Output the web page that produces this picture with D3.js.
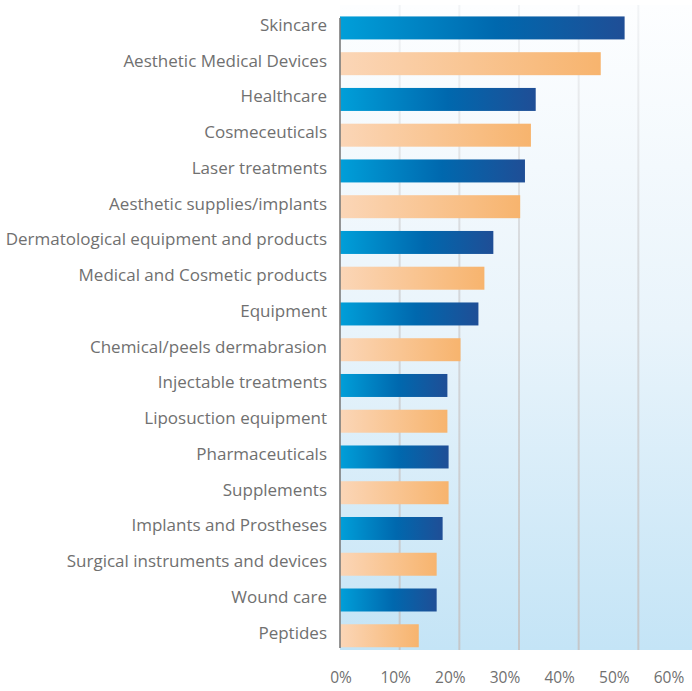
<!DOCTYPE html>
<html>
<head>
<meta charset="utf-8">
<script src="https://cdn.jsdelivr.net/npm/d3@7"></script>
<style>
  body { margin: 0; background: #fff; }
  svg { display: block; font-family: "Open Sans", "Noto Sans", sans-serif; }
</style>
</head>
<body>
<div id="chart"></div>
<script>
const categories = [
    "Skincare", "Aesthetic Medical Devices", "Healthcare", "Cosmeceuticals",
    "Laser treatments", "Aesthetic supplies/implants", "Dermatological equipment and products",
    "Medical and Cosmetic products", "Equipment", "Chemical/peels dermabrasion",
    "Injectable treatments", "Liposuction equipment", "Pharmaceuticals", "Supplements",
    "Implants and Prostheses", "Surgical instruments and devices", "Wound care", "Peptides"
];
const values = [47.7, 43.7, 32.8, 32, 31, 30.2, 25.7, 24.2, 23.2, 20.2, 18, 18, 18.2, 18.2, 17.2, 16.2, 16.2, 13.2];
const ticks = [0, 10, 20, 30, 40, 50, 60];

const width = 692, height = 691;
const plot = { left: 340, top: 5, bottom: 650 };

const svg = d3.select("#chart").append("svg")
    .attr("width", width)
    .attr("height", height);

const defs = svg.append("defs");

const bg = defs.append("linearGradient").attr("id", "bg")
    .attr("x1", 0).attr("y1", 0).attr("x2", 0).attr("y2", 1);
bg.append("stop").attr("offset", "0%").attr("stop-color", "#fdfeff");
bg.append("stop").attr("offset", "50%").attr("stop-color", "#e9f4fb");
bg.append("stop").attr("offset", "100%").attr("stop-color", "#c4e4f6");

const blue = defs.append("linearGradient").attr("id", "blue");
blue.append("stop").attr("offset", "0%").attr("stop-color", "#009fd9");
blue.append("stop").attr("offset", "55%").attr("stop-color", "#0068ae");
blue.append("stop").attr("offset", "100%").attr("stop-color", "#1f4e96");

const orange = defs.append("linearGradient").attr("id", "orange");
orange.append("stop").attr("offset", "0%").attr("stop-color", "#fbd6b7");
orange.append("stop").attr("offset", "100%").attr("stop-color", "#f7b46e");

const gridGrad = defs.append("linearGradient").attr("id", "gridGrad")
    .attr("gradientUnits", "userSpaceOnUse")
    .attr("x1", 0).attr("y1", plot.top).attr("x2", 0).attr("y2", plot.bottom);
gridGrad.append("stop").attr("offset", "0%").attr("stop-color", "#f2f4f6");
gridGrad.append("stop").attr("offset", "40%").attr("stop-color", "#d6d9dc");
gridGrad.append("stop").attr("offset", "100%").attr("stop-color", "#c4c7ca");

// plot background
svg.append("rect")
    .attr("x", plot.left).attr("y", plot.top)
    .attr("width", width - plot.left).attr("height", plot.bottom - plot.top)
    .attr("fill", "url(#bg)");

const x = d3.scaleLinear().domain([0, 60]).range([plot.left, plot.left + 358]);
const xLabel = d3.scaleLinear().domain([0, 60]).range([341, 669]);

const y = d3.scaleBand()
    .domain(categories)
    .range([10, 10 + 35.76 * 18])
    .paddingInner(0.357)
    .paddingOuter(0.18);

// gridlines
svg.selectAll(".grid")
    .data(ticks.slice(1))
    .enter()
    .append("line")
    .attr("class", "grid")
    .attr("x1", d => x(d)).attr("x2", d => x(d))
    .attr("y1", plot.top).attr("y2", plot.bottom)
    .attr("stroke", "url(#gridGrad)")
    .attr("stroke-width", 2);

// bars
svg.selectAll(".bar")
    .data(categories)
    .enter()
    .append("rect")
    .attr("class", "bar")
    .attr("x", x(0))
    .attr("y", d => y(d))
    .attr("width", (d, i) => x(values[i]) - x(0))
    .attr("height", y.bandwidth())
    .attr("fill", (d, i) => i % 2 === 0 ? "url(#blue)" : "url(#orange)");

// axis line
svg.append("line")
    .attr("x1", plot.left).attr("x2", plot.left)
    .attr("y1", plot.top + 13).attr("y2", plot.bottom - 2)
    .attr("stroke", "#7a7a7a")
    .attr("stroke-width", 1.6);

// category labels
svg.selectAll(".label")
    .data(categories)
    .enter()
    .append("text")
    .attr("class", "label")
    .attr("x", 327)
    .attr("y", d => y(d) + y.bandwidth() / 2 - 3)
    .attr("dy", "0.35em")
    .attr("text-anchor", "end")
    .attr("fill", "#707070")
    .style("font-size", "17px")
    .text(d => d);

// tick labels
svg.selectAll(".tick-label")
    .data(ticks)
    .enter()
    .append("text")
    .attr("class", "tick-label")
    .attr("x", d => xLabel(d))
    .attr("y", 678)
    .attr("dy", "0.35em")
    .attr("text-anchor", "middle")
    .attr("fill", "#707070")
    .style("font-size", "15.5px")
    .text(d => d + "%");
</script>
</body>
</html>
